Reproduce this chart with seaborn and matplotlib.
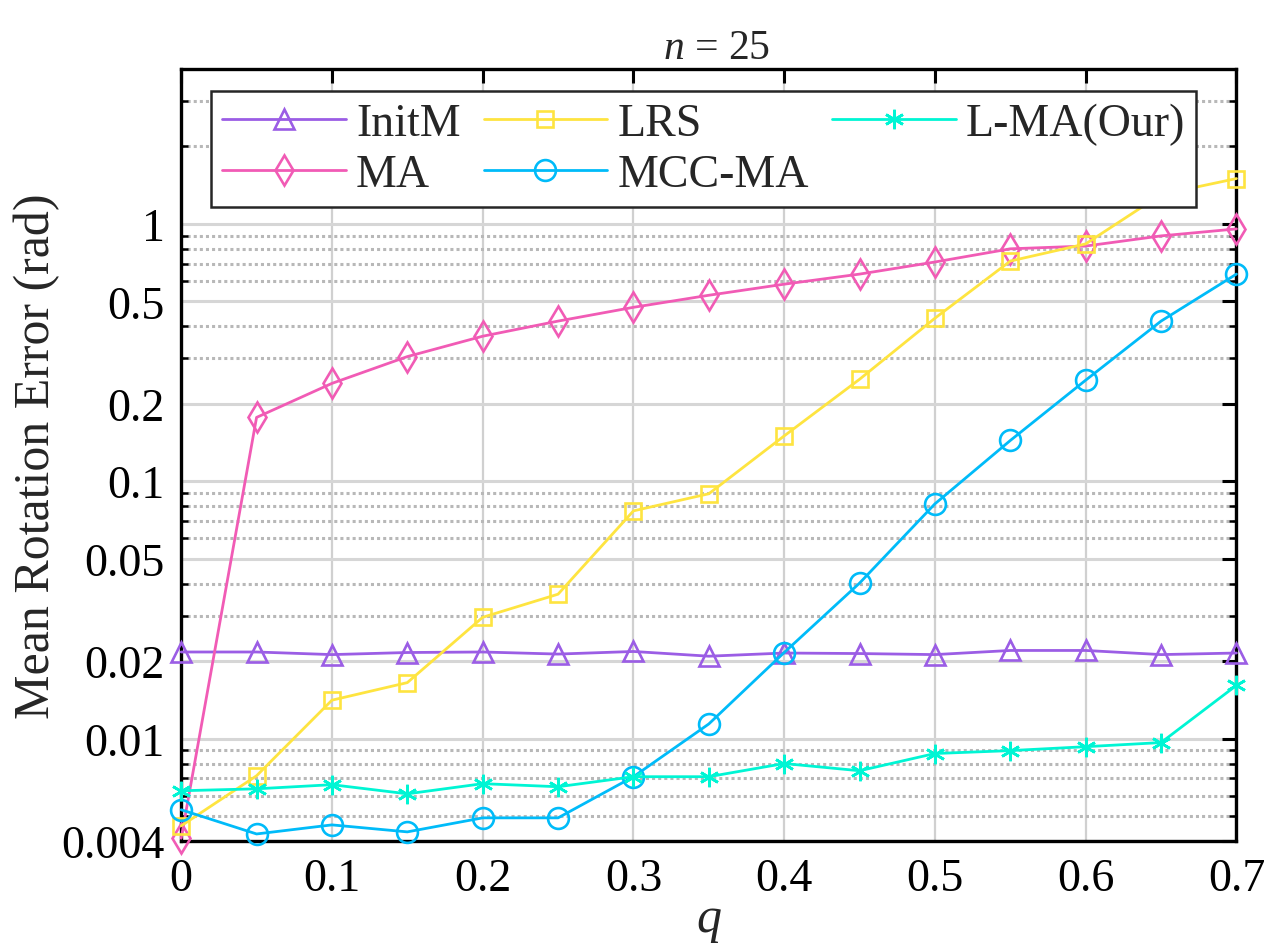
import numpy as np
import pandas as pd
import matplotlib
matplotlib.use("Agg")
import matplotlib.pyplot as plt
import seaborn as sns
from matplotlib.ticker import FixedLocator, FixedFormatter, NullFormatter

# ── data ──────────────────────────────────────────────────
q = [0, 0.05, 0.1, 0.15, 0.2, 0.25, 0.3, 0.35, 0.4, 0.45, 0.5, 0.55, 0.6, 0.65, 0.7]
initm = [0.0217, 0.0217, 0.0212, 0.0216, 0.0217, 0.0213, 0.0218, 0.0209,
         0.0215, 0.0214, 0.0212, 0.0220, 0.0220, 0.0212, 0.0215]
ma = [0.0041, 0.177, 0.240, 0.305, 0.366, 0.419, 0.474, 0.528,
      0.583, 0.638, 0.711, 0.800, 0.820, 0.898, 0.956]
lrs = [0.00458, 0.00717, 0.0141, 0.0165, 0.0296, 0.0364, 0.0767, 0.0894,
       0.150, 0.249, 0.430, 0.717, 0.836, 1.30, 1.50]
mcc_ma = [0.00529, 0.00426, 0.00462, 0.00434, 0.00492, 0.00492, 0.00711, 0.0114,
          0.0216, 0.0402, 0.0817, 0.144, 0.247, 0.419, 0.638]
l_ma = [0.00627, 0.00638, 0.00662, 0.00610, 0.00668, 0.00650, 0.00711, 0.00711,
        0.0080, 0.0075, 0.00875, 0.00898, 0.0093, 0.00965, 0.0161]

names = ["InitM", "MA", "LRS", "MCC-MA", "L-MA(Our)"]
series = [initm, ma, lrs, mcc_ma, l_ma]
colors = ["#9B5DE5", "#F15BB5", "#FEE440", "#00BBF9", "#00F5D4"]
markers = ["^", "d", "s", "o", (6, 2, 0)]
msizes = [15, 15, 12, 15, 14]

ytick_vals = [0.004, 0.01, 0.02, 0.05, 0.1, 0.2, 0.5, 1]
ytick_labels = ["0.004", "0.01", "0.02", "0.05", "0.1", "0.2", "0.5", "1"]
xtick_vals = [0, 0.1, 0.2, 0.3, 0.4, 0.5, 0.6, 0.7]
xtick_labels = ["0", "0.1", "0.2", "0.3", "0.4", "0.5", "0.6", "0.7"]

sns.set_theme(style="white")
plt.rcParams["font.family"] = ["Liberation Serif", "DejaVu Serif"]
plt.rcParams["mathtext.fontset"] = "custom"
plt.rcParams["mathtext.rm"] = "Liberation Serif"
plt.rcParams["mathtext.it"] = "Liberation Serif:italic"

fig = plt.figure(figsize=(12.76, 9.45), dpi=100)
ax = fig.add_axes([0.142, 0.109, 0.827, 0.817])

for name, vals, c, m, ms in zip(names, series, colors, markers, msizes):
    sns.lineplot(x=q, y=vals, ax=ax, color=c, marker=m, markersize=ms,
                 markerfacecolor="none", markeredgecolor=c, markeredgewidth=1.9,
                 linewidth=2, label=name, clip_on=False, zorder=3)

ax.set_yscale("log")
ax.set_ylim(0.004, 4)
ax.set_xlim(0, 0.7)

# ticks
ax.yaxis.set_major_locator(FixedLocator(ytick_vals))
ax.yaxis.set_major_formatter(FixedFormatter(ytick_labels))
minor = [k * 10.0 ** e for e in range(-3, 1) for k in range(1, 10)]
minor = [v for v in minor if 0.004 < v < 4 and not any(abs(v - t) < 1e-9 for t in ytick_vals)]
ax.yaxis.set_minor_locator(FixedLocator(minor))
ax.yaxis.set_minor_formatter(NullFormatter())
ax.xaxis.set_major_locator(FixedLocator(xtick_vals))
ax.xaxis.set_major_formatter(FixedFormatter(xtick_labels))

ax.tick_params(which="major", direction="in", length=10, width=2.2, labelsize=33,
               top=True, right=True, colors="black", pad=12)
ax.tick_params(which="minor", direction="in", length=5, width=1.8,
               left=True, right=True, colors="black")

# grid
ax.grid(True, which="major", axis="y", color="#d6d6d6", linewidth=2.2, linestyle="-")
ax.grid(True, which="minor", axis="y", color="#b8b8b8", linewidth=2.2, linestyle=(0, (1, 1)))
ax.grid(True, which="major", axis="x", color="#d0d0d0", linewidth=1.6, linestyle="-")
ax.set_axisbelow(True)

for s in ax.spines.values():
    s.set_linewidth(2.4)
    s.set_color("black")

ax.set_title("$n$ = 25", fontsize=30, pad=8, x=0.507)
ax.set_xlabel("$q$", fontsize=36, labelpad=-2)
ax.set_ylabel("Mean Rotation Error (rad)", fontsize=36, labelpad=1)

leg = ax.legend(loc="upper left", bbox_to_anchor=(0.028, 0.971), ncol=3,
                fontsize=33, frameon=True, fancybox=False, framealpha=1,
                edgecolor="#262626", handlelength=2.7, handletextpad=0.22,
                columnspacing=0.5, labelspacing=0.18, borderpad=0.25,
                borderaxespad=0, numpoints=1)
leg.get_frame().set_linewidth(1.8)
leg.set_zorder(10)

fig.savefig("out.png", dpi=100)
